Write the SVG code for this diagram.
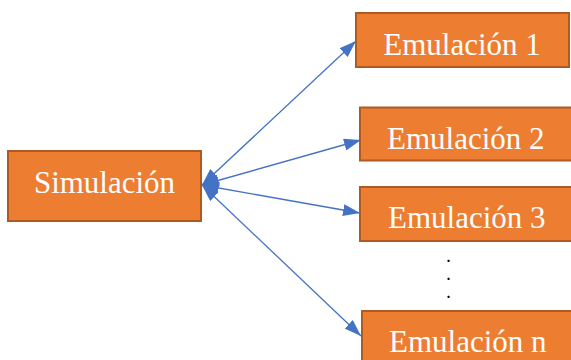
<svg xmlns="http://www.w3.org/2000/svg" width="571" height="360" viewBox="0 0 571 360">
  <style>
    .box { fill: #ED7D31; stroke: #AE5A21; stroke-width: 2; }
    .label { font-family: "Liberation Serif", "Times New Roman", serif; font-size: 31px; fill: #FFFFFF; }
    .dot { font-family: "Liberation Serif", "Times New Roman", serif; font-size: 14px; font-weight: bold; fill: #000000; }
    .link { stroke: #4472C4; stroke-width: 1.3; fill: none; marker-start: url(#head); marker-end: url(#head); }
  </style>
  <defs>
    <marker id="head" viewBox="0 0 17 12" refX="17" refY="6" markerWidth="17" markerHeight="12" markerUnits="userSpaceOnUse" orient="auto-start-reverse">
      <path d="M0,0 L17,6 L0,12 z" fill="#4472C4"/>
    </marker>
  </defs>

  <rect width="571" height="360" fill="#FFFFFF"/>

  <g id="connectors">
    <line class="link" x1="202" y1="185" x2="356" y2="41"/>
    <line class="link" x1="202" y1="185" x2="361" y2="140"/>
    <line class="link" x1="202" y1="185" x2="360" y2="213"/>
    <line class="link" x1="202" y1="185" x2="361" y2="336"/>
  </g>

  <g id="simulacion">
    <rect class="box" x="8" y="151" width="193" height="70"/>
    <text class="label" x="104.5" y="193" text-anchor="middle">Simulación</text>
  </g>

  <g id="emulacion-1">
    <rect class="box" x="356" y="13" width="213" height="54"/>
    <text class="label" x="462" y="55" text-anchor="middle">Emulación 1</text>
  </g>

  <g id="emulacion-2">
    <rect class="box" x="360" y="107.5" width="215" height="53"/>
    <text class="label" x="387" y="149">Emulación 2</text>
  </g>

  <g id="emulacion-3">
    <rect class="box" x="360" y="187" width="215" height="54"/>
    <text class="label" x="388" y="228">Emulación 3</text>
  </g>

  <g id="ellipsis">
    <text class="dot" x="446.7" y="261.5">.</text>
    <text class="dot" x="446.7" y="280">.</text>
    <text class="dot" x="446.7" y="298">.</text>
  </g>

  <g id="emulacion-n">
    <rect class="box" x="362" y="311" width="215" height="60"/>
    <text class="label" x="389" y="352">Emulación n</text>
  </g>
</svg>
